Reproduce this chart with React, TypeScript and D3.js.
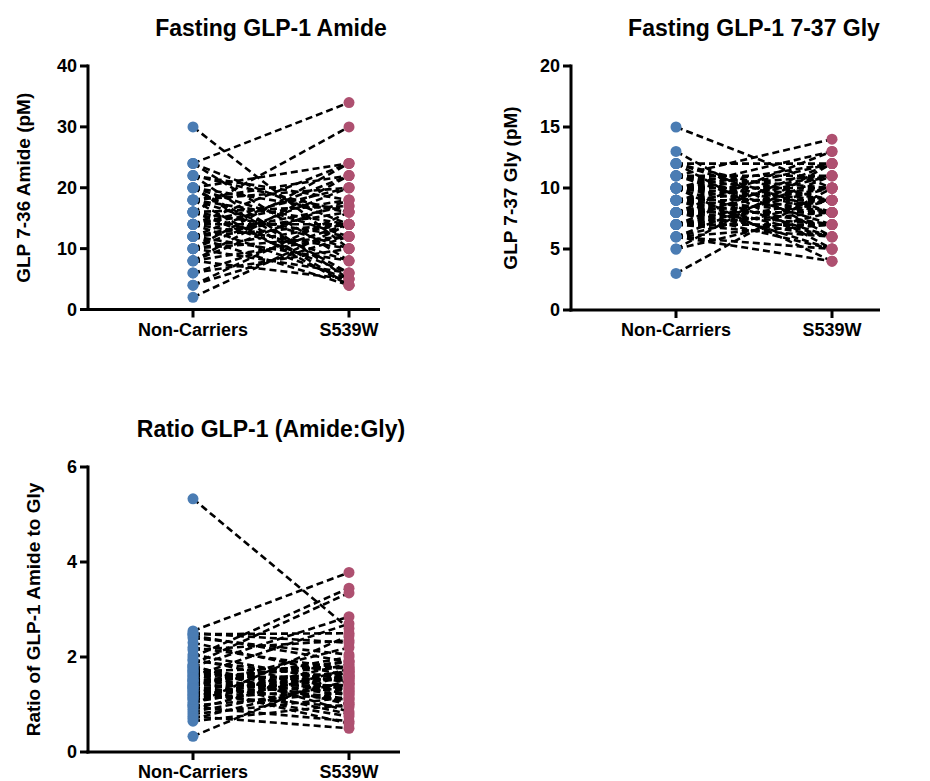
import React from "react";
import * as d3 from "d3";

const categories = ["Non-Carriers", "S539W"];

// Panel 1: GLP 7-36 Amide (pM), pairs [Non-Carriers, S539W]
const amideNC = [30, 24, 24, 22, 22, 22, 20, 20, 20, 20, 18, 18, 18, 18, 18, 16, 16, 16, 16, 14, 14, 14, 14, 14, 14, 12, 12, 12, 12, 12, 12, 10, 10, 10, 10, 10, 8, 8, 8, 8, 6, 6, 4, 4, 2, 20, 16, 24];
const amideS = [10, 34, 14, 16, 5, 18, 24, 12, 6, 16, 22, 14, 4, 20, 10, 30, 12, 8, 17, 24, 18, 5, 14, 10, 20, 22, 16, 4, 14, 8, 17, 20, 12, 6, 14, 24, 18, 12, 22, 5, 14, 10, 16, 12, 14, 4, 6, 8];
const amideTicks = [0, 10, 20, 30, 40];

// Panel 2: GLP 7-37 Gly (pM)
const glyNC = [15, 13, 12, 12, 12, 11, 11, 11, 11, 10, 10, 10, 10, 10, 10, 9, 9, 9, 9, 9, 9, 8, 8, 8, 8, 8, 8, 7, 7, 7, 7, 7, 6, 6, 6, 6, 5, 5, 3, 12, 11, 10, 9, 8, 7, 6, 10, 9, 8, 11];
const glyS = [10, 6, 12, 8, 5, 14, 10, 7, 9, 13, 11, 9, 6, 8, 4, 12, 10, 8, 7, 11, 5, 13, 9, 11, 7, 10, 6, 12, 10, 8, 6, 9, 11, 9, 7, 4, 12, 8, 10, 9, 8, 10, 9, 8, 7, 5, 12, 6, 5, 11];
const glyTicks = [0, 5, 10, 15, 20];

// Panel 3: Ratio of GLP-1 Amide to Gly
const ratioNC = [5.33, 2.55, 2.5, 2.48, 2.45, 2.4, 2.3, 2.2, 2.05, 2.0, 1.95, 1.85, 1.8, 1.75, 1.7, 1.65, 1.6, 1.55, 1.5, 1.5, 1.45, 1.4, 1.38, 1.35, 1.3, 1.25, 1.2, 1.15, 1.1, 1.05, 1.0, 0.98, 0.95, 0.9, 0.85, 0.8, 0.75, 0.7, 0.65, 0.33, 1.62, 1.72, 1.82, 1.42, 1.12, 1.28, 1.58, 1.68, 1.92, 2.15, 1.48, 1.36, 1.22, 1.78, 1.18, 1.52, 1.33];
const ratioS = [2.6, 3.78, 2.3, 2.5, 1.9, 2.05, 1.6, 1.75, 1.45, 3.45, 1.3, 3.35, 2.85, 1.0, 1.8, 1.5, 2.7, 1.2, 1.65, 0.8, 1.9, 1.4, 2.2, 1.1, 1.7, 1.55, 0.95, 1.85, 1.35, 1.6, 2.45, 1.25, 0.65, 1.75, 1.45, 1.15, 0.5, 1.5, 1.0, 1.7, 1.05, 1.35, 0.85, 2.0, 1.62, 0.75, 1.78, 1.28, 1.55, 2.35, 1.92, 0.6, 1.42, 1.22, 1.68, 1.12, 1.58];
const ratioTicks = [0, 2, 4, 6];

const titles = ["Fasting GLP-1 Amide", "Fasting GLP-1 7-37 Gly", "Ratio GLP-1 (Amide:Gly)"];
const yLabels = ["GLP 7-36 Amide (pM)", "GLP 7-37 Gly (pM)", "Ratio of GLP-1 Amide to Gly"];

const BLUE = "#4a7cb3";
const PINK = "#ae5070";
const FONT = "'Liberation Sans', Arial, Helvetica, sans-serif";

type PanelProps = {
  left: number; top: number; bottom: number; right: number;
  nc: number[]; s: number[]; ticks: number[];
  title: string; titleX: number; titleY: number;
  yLabel: string; yLabelX: number;
};

function Panel(p: PanelProps) {
  const y = d3.scaleLinear().domain([p.ticks[0], p.ticks[p.ticks.length - 1]]).range([p.bottom, p.top]);
  const x = d3.scalePoint<string>().domain(categories).range([p.left + 105, p.left + 261]);
  const line = d3.line<[number, number]>().x((d) => d[0]).y((d) => d[1]);
  const x0 = x(categories[0])!;
  const x1 = x(categories[1])!;
  return (
    <g>
      <text x={p.titleX} y={p.titleY} textAnchor="middle" fontFamily={FONT} fontWeight="bold" fontSize={23} fill="#000">{p.title}</text>
      <text transform={`translate(${p.yLabelX},${(p.top + p.bottom) / 2}) rotate(-90)`} textAnchor="middle" fontFamily={FONT} fontWeight="bold" fontSize={19} fill="#000">{p.yLabel}</text>
      {/* paired lines */}
      {p.nc.map((v, i) => (
        <path key={"l" + i} d={line([[x0, y(v)], [x1, y(p.s[i])]]) || ""} stroke="#000" strokeWidth={2.6} strokeDasharray="7,4" fill="none" />
      ))}
      {/* axes */}
      <line x1={p.left} x2={p.left} y1={p.top - 1.5} y2={p.bottom + 1.5} stroke="#000" strokeWidth={3} />
      <line x1={p.left - 1.5} x2={p.right} y1={p.bottom} y2={p.bottom} stroke="#000" strokeWidth={3} />
      {p.ticks.map((t) => (
        <g key={t}>
          <line x1={p.left - 8} x2={p.left} y1={y(t)} y2={y(t)} stroke="#000" strokeWidth={3} />
          <text x={p.left - 11} y={y(t)} dy="0.36em" textAnchor="end" fontFamily={FONT} fontWeight="bold" fontSize={18} fill="#000">{t}</text>
        </g>
      ))}
      {categories.map((c) => (
        <g key={c}>
          <line x1={x(c)} x2={x(c)} y1={p.bottom} y2={p.bottom + 8} stroke="#000" strokeWidth={3} />
          <text x={x(c)} y={p.bottom + 26} textAnchor="middle" fontFamily={FONT} fontWeight="bold" fontSize={18} fill="#000">{c}</text>
        </g>
      ))}
      {p.nc.map((v, i) => (
        <circle key={"a" + i} cx={x0} cy={y(v)} r={5.5} fill={BLUE} />
      ))}
      {p.s.map((v, i) => (
        <circle key={"b" + i} cx={x1} cy={y(v)} r={5.5} fill={PINK} />
      ))}
    </g>
  );
}

export default function App() {
  return (
    <svg width={930} height={781} style={{ position: "absolute", left: 0, top: 0, background: "#fff" }}>
      <rect width={930} height={781} fill="#fff" />
      <Panel left={88} top={66} bottom={309.5} right={380} nc={amideNC} s={amideS} ticks={amideTicks}
        title={titles[0]} titleX={271} titleY={36} yLabel={yLabels[0]} yLabelX={30} />
      <Panel left={571} top={66} bottom={310} right={880} nc={glyNC} s={glyS} ticks={glyTicks}
        title={titles[1]} titleX={754} titleY={36} yLabel={yLabels[1]} yLabelX={517} />
      <Panel left={88} top={467} bottom={752} right={400} nc={ratioNC} s={ratioS} ticks={ratioTicks}
        title={titles[2]} titleX={271} titleY={437} yLabel={yLabels[2]} yLabelX={40} />
    </svg>
  );
}
